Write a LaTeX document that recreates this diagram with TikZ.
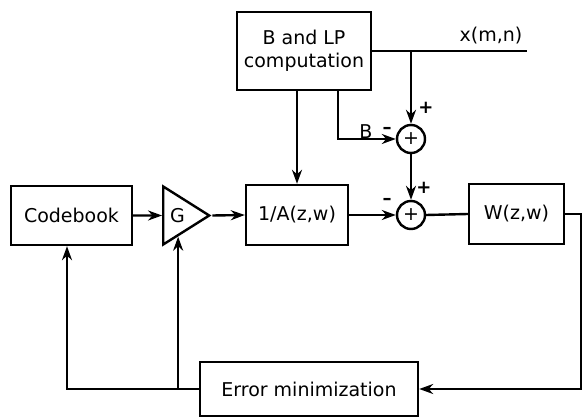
\documentclass[tikz,border=0pt]{standalone}
\usepackage{fontspec}
\setmainfont{DejaVu Sans}
\usetikzlibrary{arrows.meta,positioning,shapes.geometric,calc}

\begin{document}
\begin{tikzpicture}[
    x=1pt, y=-1pt,
    block/.style={draw, line width=2.4pt, inner sep=0pt, font=\fontsize{19}{23}\selectfont, align=center},
    sumnode/.style={circle, draw, line width=2.4pt, minimum size=28pt, inner sep=0pt, font=\fontsize{19}{23}\selectfont},
    gainnode/.style={draw, line width=2.4pt, isosceles triangle, isosceles triangle stretches, minimum width=58pt, minimum height=46pt, inner sep=0pt, font=\fontsize{19}{23}\selectfont},
    conn/.style={-{Stealth[length=14pt,width=10pt]}, line width=2.4pt},
    wire/.style={line width=2.4pt},
    sign/.style={font=\fontsize{18}{20}\selectfont\bfseries, inner sep=0pt}
]
\useasboundingbox (0,0) rectangle (582,417);

% Blocks
\node[block, minimum width=134pt, minimum height=78pt] (blp)     at (304, 51)  {B and LP\\computation};
\node[block, minimum width=121pt, minimum height=59pt] (codebook) at (71.5, 215.5) {Codebook};
\node[gainnode] (gain) at (177.5, 215.5) {G};
\node[block, minimum width=102pt, minimum height=60pt] (inva)    at (297, 215)  {1/A(z,w)};
\node[sumnode] (sum1) at (411, 139) {+};
\node[sumnode] (sum2) at (411, 215) {+};
\node[block, minimum width=95pt, minimum height=60pt]  (wfilt)   at (516.5, 214) {W(z,w)};
\node[block, minimum width=218pt, minimum height=54pt] (errmin)  at (309, 389)  {Error minimization};

% Input and labels
\coordinate (xin)  at (527, 51);
\coordinate (wout) at (581, 214);
\coordinate (gin)  at ($(gain.apex)!0.68!(gain.right corner)$);
\node[block, draw=none] (xlab) at (491, 36) {x(m,n)};
\node[block, draw=none] (bl) at (366, 132) {B};
\node[sign] (m1)   at (387, 130) {--};
\node[sign] (p1)   at (426, 108) {+};
\node[sign] (p2)   at (424, 188) {+};
\node[sign] (m2)   at (387, 201) {--};

% Connections
\draw[wire] (blp.east) -- (xin);
\draw[conn] (sum1 |- blp.east) -- (sum1.north);
\draw[conn] ([xshift=34pt]blp.south) |- (sum1.west);
\draw[conn] (blp.south -| inva.north) -- (inva.north);
\draw[conn] (sum1.south) -- (sum2.north);
\draw[conn] (codebook.east) -- (gain.west);
\draw[conn] (gain.apex) -- (inva.west);
\draw[conn] (inva.east) -- (sum2.west);
\draw[wire] (sum2.east) -- (wfilt.west);
\draw[conn] (wfilt.east) -- (wout) |- (errmin.east);
\draw[conn] (errmin.west) -| ([xshift=-4.5pt]codebook.south);
\draw[conn] (errmin.west -| gin) -- (gin);
\end{tikzpicture}
\end{document}
